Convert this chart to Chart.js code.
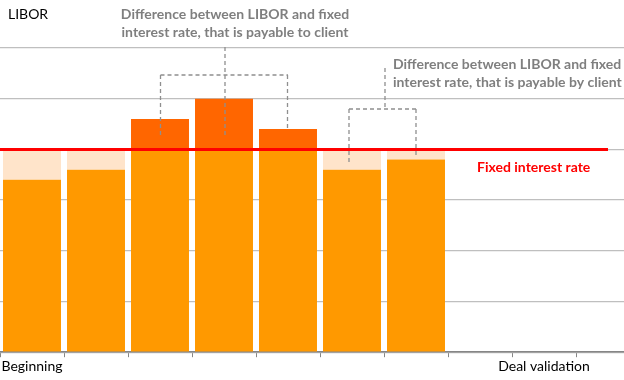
<!DOCTYPE html>
<html>
<head>
<meta charset="utf-8">
<script src="https://cdn.jsdelivr.net/npm/chart.js@4.4.0/dist/chart.umd.min.js"></script>
<style>
html,body{margin:0;padding:0;width:624px;height:380px;overflow:hidden;background:#fff;}
#wrap{position:relative;width:640px;height:380px;}
</style>
</head>
<body>
<div id="wrap"><canvas id="c"></canvas></div>
<script>
const categories = ['Beginning','','','','','','','','Deal validation',''];
const libor = [3.4, 3.6, 4.6, 5.0, 4.4, 3.6, 3.8, null, null, null];
const fixedRate = 4;
const yTicks = [0,1,2,3,4,5,6];

const baseVals = libor.map(v => v == null ? null : Math.min(v, fixedRate));
const belowVals = libor.map(v => v == null ? null : Math.max(0, fixedRate - v));
const aboveVals = libor.map(v => v == null ? null : Math.max(0, v - fixedRate));

const FONT = 'Lato, "Open Sans", sans-serif';

const overlay = {
  id: 'overlay',
  afterDatasetsDraw(chart) {
    const ctx = chart.ctx, x = chart.scales.x, y = chart.scales.y, a = chart.chartArea;
    const yf = y.getPixelForValue(fixedRate);
    ctx.save();
    // fixed rate line
    ctx.strokeStyle = '#FF0000';
    ctx.lineWidth = 3;
    ctx.beginPath();
    ctx.moveTo(a.left, yf);
    ctx.lineTo(x.getPixelForValue(9), yf);
    ctx.stroke();
    // dashed brackets
    ctx.strokeStyle = '#8F8F8F';
    ctx.lineWidth = 1.3;
    ctx.setLineDash([4, 3]);
    const seg = (x1, y1, x2, y2) => { ctx.beginPath(); ctx.moveTo(x1, y1); ctx.lineTo(x2, y2); ctx.stroke(); };
    const p2 = x.getPixelForValue(2), p3 = x.getPixelForValue(3), p4 = x.getPixelForValue(4);
    const p5 = x.getPixelForValue(5), p6 = x.getPixelForValue(6);
    seg(p2 + 0.5, 75, p4, 75);
    seg(p2 + 0.5, 75, p2 + 0.5, 138);
    seg(p4 - 0.5, 75, p4 - 0.5, y.getPixelForValue(libor[4]));
    seg(p3 + 1, 47, p3 + 1, 138);
    seg(p5 - 3, 109, p6, 109);
    seg(p5 - 3, 109, p5 - 3, 162);
    seg(p6, 109, p6, 157);
    seg(385, 68, 385, 109);
    ctx.setLineDash([]);
    // texts
    ctx.textBaseline = 'middle';
    ctx.fillStyle = '#000000';
    ctx.font = '14px ' + FONT;
    ctx.textAlign = 'left';
    ctx.fillText('LIBOR', 8, 14);
    ctx.fillStyle = '#7F7F7F';
    ctx.font = 'bold 14px ' + FONT;
    ctx.textAlign = 'center';
    ctx.fillText('Difference between LIBOR and fixed', 235, 14);
    ctx.fillText('interest rate, that is payable to client', 235, 32);
    ctx.textAlign = 'left';
    ctx.fillText('Difference between LIBOR and fixed', 393, 64);
    ctx.fillText('interest rate, that is payable by client', 393, 82);
    ctx.fillStyle = '#FF0000';
    ctx.fillText('Fixed interest rate', 477, 167);
    ctx.restore();
  }
};

new Chart(document.getElementById('c'), {
  type: 'bar',
  data: {
    labels: categories,
    datasets: [
      { data: baseVals, backgroundColor: '#FF9900', stack: 's' },
      { data: belowVals, backgroundColor: '#FFE4CA', stack: 's' },
      { data: aboveVals, backgroundColor: '#FF6600', stack: 's' }
    ]
  },
  options: {
    responsive: true,
    maintainAspectRatio: false,
    animation: false,
    events: [],
    layout: { padding: { top: 48, bottom: 4, left: 0, right: 0 } },
    plugins: { legend: { display: false }, tooltip: { enabled: false } },
    datasets: { bar: { categoryPercentage: 1, barPercentage: 0.906, borderWidth: 0 } },
    scales: {
      x: {
        stacked: true,
        grid: { display: true, drawOnChartArea: false, tickLength: 5, color: '#868686', offset: true },
        border: { display: true, color: '#868686', width: 1.5 },
        ticks: { autoSkip: false, maxRotation: 0, padding: 1, color: '#000000', font: { family: FONT, size: 14 } }
      },
      y: {
        stacked: true,
        min: 0, max: 6,
        afterBuildTicks: s => { s.ticks = yTicks.map(v => ({ value: v })); },
        afterFit: s => { s.width = 0; },
        grid: { color: '#BFBFBF', lineWidth: 1.3, drawTicks: false },
        border: { display: false },
        ticks: { display: false }
      }
    }
  },
  plugins: [overlay]
});
</script>
</body>
</html>
